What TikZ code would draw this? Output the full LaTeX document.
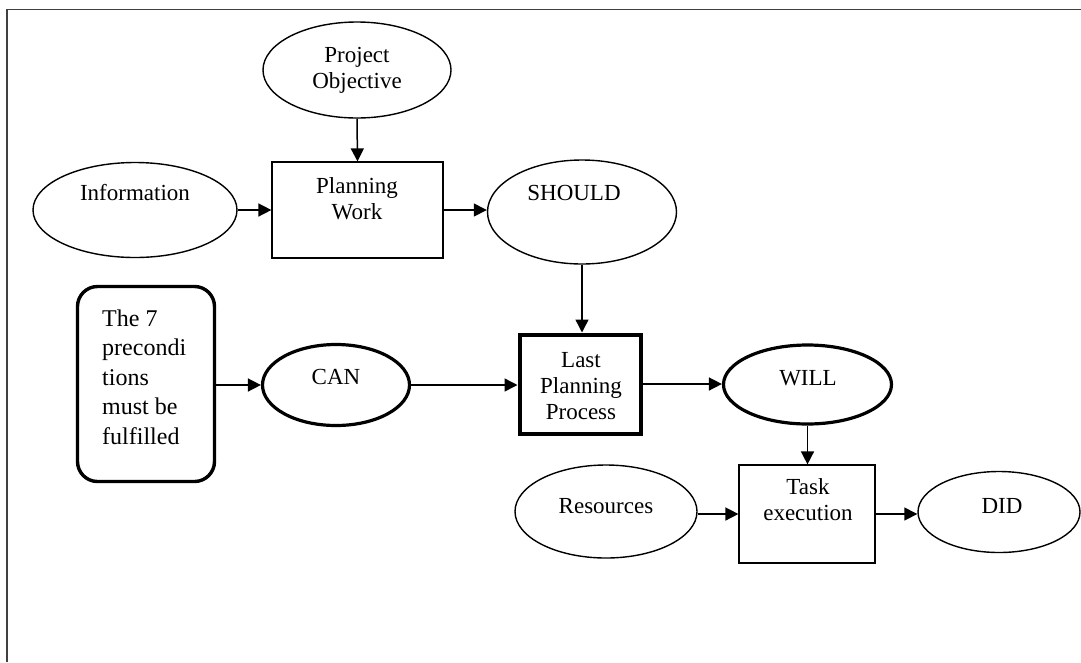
\documentclass[tikz,border=0pt]{standalone}
\usepackage{fontspec}
\setmainfont{Liberation Serif}
\usetikzlibrary{shapes.geometric,arrows.meta}
\begin{document}
\begin{tikzpicture}[x=1pt,y=-1pt,
  ell/.style={draw,ellipse,line width=1.4pt,inner sep=0pt},
  tell/.style={draw,ellipse,line width=3.2pt,inner sep=0pt},
  box/.style={draw,rectangle,line width=1.2pt,inner sep=0pt},
  txt/.style={align=center,font=\fontsize{23}{26}\selectfont,inner sep=0pt},
  arr/.style={line width=1.5pt,-{Triangle[length=13pt,width=13pt]}},
  frame/.style={line width=1.6pt,draw=black!75}]
\useasboundingbox (0,0) rectangle (1081,662);
\coordinate (ftl) at (7,9.5);
\coordinate (ftr) at (1081,9.5);
\coordinate (fbl) at (7,662);
\draw[frame] (fbl) -- (ftl) -- (ftr);

% shapes
\node[ell,minimum width=188pt,minimum height=96pt] (po) at (357,70) {};
\node[ell,minimum width=204pt,minimum height=95pt] (info) at (135,210) {};
\node[box,minimum width=171pt,minimum height=96pt] (pw) at (357.5,210) {};
\node[ell,minimum width=189pt,minimum height=104pt] (should) at (582,212) {};
\node[draw,rectangle,rounded corners=20pt,line width=3.4pt,minimum width=137pt,minimum height=195pt] (pre) at (146,384) {};
\node[tell,minimum width=147pt,minimum height=81pt] (can) at (336,385) {};
\node[draw,rectangle,line width=4pt,minimum width=121pt,minimum height=99pt] (lpp) at (580,384) {};
\node[tell,minimum width=168pt,minimum height=79pt] (will) at (807.5,384.5) {};
\node[ell,minimum width=182pt,minimum height=93pt] (res) at (606,511.5) {};
\node[box,minimum width=136pt,minimum height=98pt] (task) at (807,514) {};
\node[ell,minimum width=162pt,minimum height=81pt] (did) at (999,512) {};

% texts
\node[txt] (tpo) at (357,70) {Project\\Objective};
\node[txt] (tinfo) at (135,193) {Information};
\node[txt] (tpw) at (357,199) {Planning\\Work};
\node[txt] (tshould) at (574,193) {SHOULD};
\node[align=left,anchor=west,inner sep=0pt,font=\fontsize{24}{29.5}\selectfont] (tpre) at (102,377) {The 7\\precondi\\tions\\must be\\fulfilled};
\node[txt] (tcan) at (336,377) {CAN};
\node[txt] (tlpp) at (581,386) {Last\\Planning\\Process};
\node[txt] (twill) at (808,378) {WILL};
\node[txt] (tres) at (606,506) {Resources};
\node[txt] (ttask) at (808,500) {Task\\execution};
\node[txt] (tdid) at (1002,506) {DID};

% connectors
\draw[arr] (po.south) -- (pw.north);
\draw[arr] (info.east) -- (pw.west);
\draw[arr] (pw.east) -- (pw.east -| should.west);
\draw[arr] (should.south) -- (should.south |- lpp.north);
\draw[arr] (pre.east |- can.west) -- (can.west);
\draw[arr] (can.east) -- (can.east -| lpp.west);
\draw[arr] (lpp.east) -- (lpp.east -| will.west);
\draw[arr] (will.south) -- (will.south |- task.north);
\draw[arr] (res.east |- task.west) -- (task.west);
\draw[arr] (task.east) -- (task.east -| did.west);
\end{tikzpicture}
\end{document}
